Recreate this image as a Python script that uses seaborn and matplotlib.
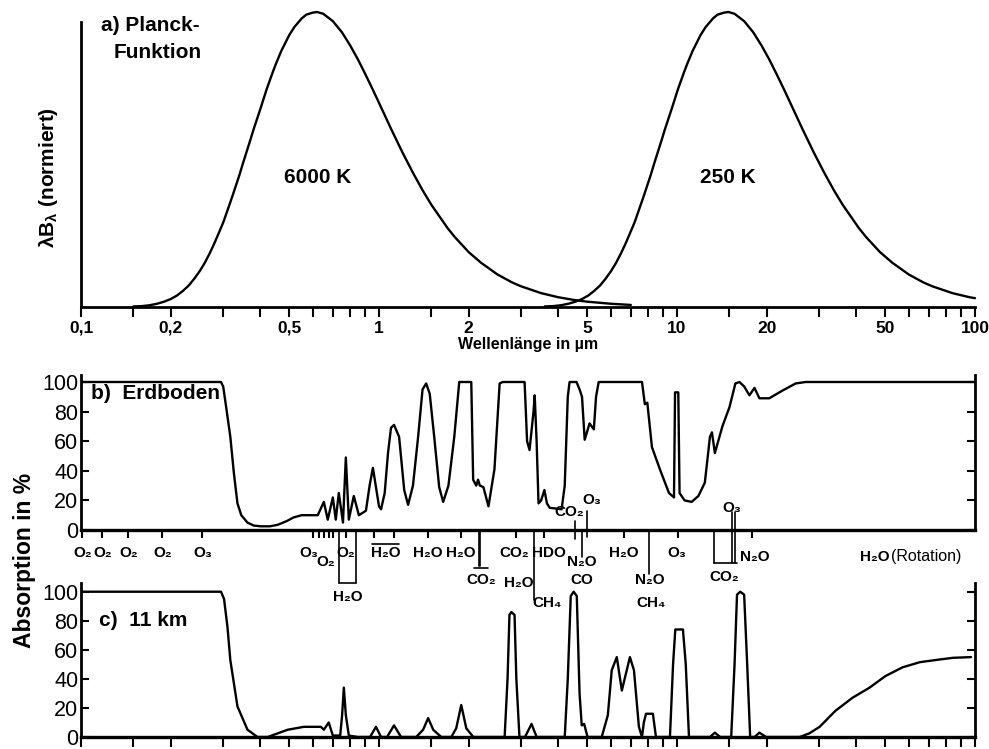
import matplotlib
matplotlib.use('Agg')
import matplotlib.pyplot as plt
from matplotlib.ticker import NullLocator
import seaborn as sns

# ---------------- data ----------------
# a) normalised Planck curves (lambda * B_lambda)
planck_6000_wl = [0.15, 0.16, 0.17, 0.18, 0.19, 0.2, 0.21, 0.22, 0.23, 0.24, 0.25, 0.26, 0.27,
                  0.28, 0.29, 0.3, 0.32, 0.34, 0.35, 0.37, 0.38, 0.4, 0.42, 0.44, 0.45, 0.47,
                  0.5, 0.52, 0.55, 0.57, 0.6, 0.62, 0.65, 0.7, 0.75, 0.8, 0.85, 0.9, 0.95, 1.0,
                  1.1, 1.2, 1.3, 1.4, 1.5, 1.7, 1.8, 2.0, 2.2, 2.5, 2.8, 3.0, 3.5, 4.0, 4.5,
                  5.0, 6.0, 7.0]
planck_6000_val = [0.002, 0.003, 0.006, 0.011, 0.018, 0.027, 0.039, 0.055, 0.073, 0.096, 0.121,
                   0.149, 0.181, 0.215, 0.251, 0.286, 0.367, 0.447, 0.489, 0.566, 0.604, 0.672,
                   0.739, 0.796, 0.822, 0.868, 0.922, 0.949, 0.978, 0.991, 0.998, 1.0, 0.994,
                   0.969, 0.932, 0.887, 0.839, 0.789, 0.740, 0.692, 0.602, 0.523, 0.455, 0.396,
                   0.346, 0.267, 0.236, 0.186, 0.150, 0.110, 0.083, 0.070, 0.047, 0.033, 0.024,
                   0.018, 0.011, 0.007]
planck_250_wl = [3.6, 3.84, 4.08, 4.32, 4.56, 4.8, 5.04, 5.28, 5.52, 5.76, 6.0, 6.24, 6.48,
                 6.72, 6.96, 7.2, 7.68, 8.16, 8.4, 8.88, 9.12, 9.6, 10.08, 10.56, 10.8, 11.28,
                 12.0, 12.48, 13.2, 13.68, 14.4, 14.88, 15.6, 16.8, 18.0, 19.2, 20.4, 21.6,
                 22.8, 24.0, 26.4, 28.8, 31.2, 33.6, 36.0, 40.8, 43.2, 48.0, 52.8, 60.0, 67.2,
                 72.0, 84.0, 96.0, 100.0]
planck_250_val = [0.002, 0.003, 0.006, 0.011, 0.018, 0.027, 0.039, 0.055, 0.073, 0.096, 0.121,
                  0.149, 0.181, 0.215, 0.251, 0.286, 0.367, 0.447, 0.489, 0.566, 0.604, 0.672,
                  0.739, 0.796, 0.822, 0.868, 0.922, 0.949, 0.978, 0.991, 0.998, 1.0, 0.994,
                  0.969, 0.932, 0.887, 0.839, 0.789, 0.740, 0.692, 0.602, 0.523, 0.455, 0.396,
                  0.346, 0.267, 0.236, 0.186, 0.150, 0.110, 0.083, 0.070, 0.047, 0.033, 0.030]

# b) absorption at the ground (%)
ground_wl = [0.10, 0.295, 0.300, 0.306, 0.317, 0.326, 0.335, 0.345, 0.362, 0.38, 0.401, 0.43,
             0.457, 0.49, 0.517, 0.55, 0.590, 0.623, 0.653, 0.673, 0.700, 0.716, 0.733, 0.757,
             0.774, 0.792, 0.823, 0.856, 0.904, 0.93, 0.954, 0.975, 1.0, 1.016, 1.045, 1.072,
             1.097, 1.123, 1.168, 1.215, 1.252, 1.30, 1.353, 1.40, 1.44, 1.48, 1.532, 1.592,
             1.642, 1.71, 1.789, 1.859, 2.04, 2.07, 2.12, 2.15, 2.18, 2.24, 2.33, 2.44, 2.54,
             2.60, 3.08, 3.14, 3.20, 3.30, 3.33, 3.38, 3.43, 3.50, 3.59, 3.66, 3.74, 4.10, 4.20,
             4.30, 4.36, 4.60, 4.71, 4.80, 4.90, 5.09, 5.26, 5.35, 5.46, 7.63, 7.80, 7.95, 8.24,
             8.8, 9.40, 9.77, 9.85, 10.1, 10.2, 10.6, 11.2, 11.8, 12.4, 12.9, 13.1, 13.4, 14.2,
             15.0, 15.7, 16.2, 16.8, 17.5, 18.2, 18.9, 20.4, 22.5, 25.0, 27.0, 100.0]
ground_abs = [100, 100, 97, 85, 63, 38, 18, 10, 5, 3, 2.5, 2.5,
              3.5, 6, 8.5, 10, 10, 10, 19, 7, 22, 7, 25, 5,
              49, 7, 23, 10, 13, 30, 42, 30, 16, 14, 25, 52,
              69, 71, 63, 27, 17, 30, 63, 95, 99, 92, 63, 29,
              19, 30, 63, 100, 100, 34, 30, 34, 30, 29, 16, 41, 99,
              100, 100, 60, 54, 80, 91, 60, 18, 20, 27, 18, 15, 14, 30,
              90, 100, 100, 95, 90, 61, 72, 68, 90, 100, 100, 85, 86, 56,
              40, 25, 22, 93, 93, 25, 20, 19, 23, 32, 63, 66, 52, 70,
              83, 99, 100, 97, 91, 96, 89, 89, 94, 99, 100, 100]

# c) absorption at 11 km (%)
km11_wl = [0.10, 0.295, 0.302, 0.310, 0.317, 0.335, 0.362, 0.391, 0.423, 0.494, 0.559, 0.638,
           0.653, 0.678, 0.700, 0.741, 0.752, 0.762, 0.774, 0.792, 0.849, 0.933, 0.977, 1.016,
           1.064, 1.123, 1.186, 1.333, 1.406, 1.462, 1.520, 1.618, 1.748, 1.816, 1.888, 1.963,
           2.072, 2.64, 2.70, 2.74, 2.78, 2.85, 2.89, 2.96, 3.09, 3.25, 3.38, 4.20, 4.30, 4.40,
           4.50, 4.61, 4.71, 4.79, 4.88, 5.01, 5.59, 5.86, 6.04, 6.28, 6.53, 6.95, 7.17, 7.45,
           7.63, 7.74, 7.87, 8.30, 8.50, 9.47, 9.70, 9.87, 10.47, 10.7, 10.97, 12.9, 13.4,
           13.96, 15.2, 15.6, 15.9, 16.3, 16.8, 17.2, 17.6, 18.2, 18.9, 19.9, 25.8, 27.8, 30.1,
           34.0, 38.8, 44.3, 50.1, 57.2, 65.3, 73.9, 84.3, 97.0]
km11_abs = [100, 100, 95, 76, 53, 21, 5, 0, 0, 5, 7, 7,
            5, 10, 1, 1, 15, 34, 15, 1, 0, 0, 7, 0,
            0, 8, 0, 0, 5, 13, 5, 0, 0, 6, 22, 6,
            0, 0, 40, 84, 86, 84, 40, 0, 0, 9, 0, 0, 40, 97,
            100, 97, 30, 8, 9, 0, 0, 15, 46, 55, 32, 55, 46, 7,
            0, 10, 16, 16, 0, 0, 50, 74, 74, 50, 0, 0, 3,
            0, 0, 50, 98, 100, 98, 50, 0, 0, 3, 0, 0, 2.5, 7,
            18, 27, 34, 42, 48, 51.5, 53, 54.5, 55]

# axis ticks / labels
log_ticks = [0.1, 0.15, 0.2, 0.3, 0.4, 0.5, 0.6, 0.7, 0.8, 0.9, 1, 1.5, 2, 3, 4, 5, 6, 7, 8, 9,
             10, 15, 20, 30, 40, 50, 60, 70, 80, 90, 100]
tick_text = {0.1: '0,1', 0.2: '0,2', 0.5: '0,5', 1: '1', 2: '2', 5: '5', 10: '10', 20: '20',
             50: '50', 100: '100'}
abs_ticks = [0, 20, 40, 60, 80, 100]

# molecule band labels of panel b: (text, wavelength, y in %)
band_labels = [('O₂', 0.101, -15.5), ('O₂', 0.1186, -15.5), ('O₂', 0.144, -15.5),
               ('O₂', 0.1874, -15.5), ('O₃', 0.2556, -15.5), ('O₃', 0.581, -15.5),
               ('O₂', 0.663, -21.6), ('O₂', 0.774, -15.5), ('H₂O', 1.056, -15.5),
               ('H₂O', 1.462, -15.5), ('H₂O', 1.888, -15.5), ('CO₂', 2.85, -15.5),
               ('HDO', 3.71, -15.5), ('H₂O', 6.63, -15.5), ('O₃', 10.0, -15.5),
               ('N₂O', 18.3, -18), ('N₂O', 4.79, -21.6), ('CO', 4.79, -33.8),
               ('CO₂', 2.20, -33.8), ('H₂O', 2.94, -35.8), ('N₂O', 8.11, -33.8),
               ('CH₄', 8.2, -49), ('CH₄', 3.65, -49), ('CO₂', 14.4, -31.8),
               ('H₂O', 0.786, -45), ('CO₂', 4.36, 12.2), ('O₃', 5.17, 20.3), ('O₃', 15.3, 14.9)]
band_ticks = [0.1008, 0.118, 0.144, 0.187, 0.2556, 0.5986, 0.628, 0.653, 0.678, 0.700, 0.774,
              0.96, 1.12, 1.462, 1.888, 2.89, 3.59, 6.63, 10.1, 17.9]
guide_vertical = [(0.733, 0, -36), (0.836, 0, -36), (2.16, 0, -24), (2.19, 0, -24),
                  (3.30, 0, -47), (4.54, 6, -6), (4.79, 0, -18), (4.98, 13, -5),
                  (8.05, 0, -30), (13.3, 0, -22), (15.3, 12, -22), (15.7, 12, -22)]
guide_horizontal = [(0.733, 0.836, -36), (2.08, 2.32, -25.5), (13.3, 15.9, -22),
                    (0.95, 1.17, -9.5)]

# ---------------- style ----------------
sns.set_theme(style='white')
plt.rcParams['font.family'] = ['Liberation Sans', 'DejaVu Sans']
plt.rcParams['mathtext.fontset'] = 'custom'
plt.rcParams['mathtext.rm'] = 'Liberation Sans'
plt.rcParams['mathtext.bf'] = 'Liberation Sans:bold'
plt.rcParams['mathtext.it'] = 'Liberation Sans:italic'
for key in ['text.color', 'axes.labelcolor', 'xtick.color', 'ytick.color', 'axes.edgecolor']:
    plt.rcParams[key] = 'black'

W, H = 989, 749
fig = plt.figure(figsize=(W / 100, H / 100), dpi=100)
fig.patch.set_facecolor('white')

def px_axes(x0, x1, ytop, ybot):
    ax = fig.add_axes([x0 / W, 1 - ybot / H, (x1 - x0) / W, (ybot - ytop) / H])
    ax.set_facecolor('none')
    return ax

LW = 1.7
SPW = 2.0

# ---------------- panel a ----------------
ax_a = px_axes(81, 975, 12, 307)
ax_a.set_xscale('log')
sns.lineplot(x=planck_6000_wl, y=planck_6000_val, ax=ax_a, color='black', lw=LW,
             estimator=None, sort=False)
sns.lineplot(x=planck_250_wl, y=planck_250_val, ax=ax_a, color='black', lw=LW,
             estimator=None, sort=False)
for ln in ax_a.lines:
    ln.set_clip_on(False)
ax_a.set_xlim(0.1, 100)
ax_a.set_ylim(0, 1.0)
for s in ['top', 'right']:
    ax_a.spines[s].set_visible(False)
for s in ['left', 'bottom']:
    ax_a.spines[s].set_color('black')
    ax_a.spines[s].set_linewidth(SPW)
ax_a.spines['left'].set_bounds(0, 0.966)
ax_a.set_xticks(log_ticks)
ax_a.set_xticklabels([tick_text.get(t, '') for t in log_ticks], fontweight='bold')
ax_a.xaxis.set_minor_locator(NullLocator())
ax_a.set_yticks([])
ax_a.tick_params(axis='x', direction='out', length=7, width=1.5, labelsize=12.5, pad=3,
                 bottom=True, colors='black')
ax_a.set_xlabel('Wellenlänge in µm', fontsize=11.5, fontweight='bold', labelpad=1)
ax_a.set_ylabel('')
ax_a.text(0.1165, 0.985, 'a) Planck-', fontsize=15, fontweight='bold', va='top', ha='left')
ax_a.text(0.1285, 0.895, 'Funktion', fontsize=15, fontweight='bold', va='top', ha='left')
ax_a.text(0.62, 0.44, '6000 K', fontsize=15, fontweight='bold', ha='center', va='center')
ax_a.text(14.8, 0.44, '250 K', fontsize=15, fontweight='bold', ha='center', va='center')
fig.text(49 / W, 1 - 178 / H, r'λB$_\mathbf{λ}$ (normiert)', rotation=90, fontsize=15,
         fontweight='bold', ha='center', va='center')

# ---------------- panel b ----------------
ax_b = px_axes(81, 975, 374.6, 530)
ax_b.set_xscale('log')
sns.lineplot(x=ground_wl, y=ground_abs, ax=ax_b, color='black', lw=LW, estimator=None,
             sort=False)
ax_b.set_xlim(0.1, 100)
ax_b.set_ylim(0, 105)
ax_b.spines['top'].set_visible(False)
for s in ['left', 'right', 'bottom']:
    ax_b.spines[s].set_color('black')
    ax_b.spines[s].set_linewidth(SPW)
ax_b.spines['bottom'].set_linewidth(2.4)
ax_b.set_yticks(abs_ticks)
ax_b.set_yticklabels([str(t) for t in abs_ticks])
ax_b.tick_params(axis='y', direction='in', left=True, right=True, length=6, width=1.5,
                 labelsize=15.5, pad=2, colors='black')
ax_b.set_xticks(band_ticks)
ax_b.set_xticklabels([])
ax_b.xaxis.set_minor_locator(NullLocator())
ax_b.tick_params(axis='x', direction='out', bottom=True, length=6, width=1.5, colors='black')
ax_b.set_xlabel('')
ax_b.set_ylabel('')
ax_b.text(0.108, 92, 'b)  Erdboden', fontsize=15, fontweight='bold', ha='left', va='center')
for txt, wl, yy in band_labels:
    ax_b.text(wl, yy, txt, fontsize=11, fontweight='bold', ha='center', va='center',
              clip_on=False)
ax_b.text(46.1, -18, 'H₂O', fontsize=11, fontweight='bold', ha='center', va='center',
          clip_on=False)
ax_b.text(52.2, -18, '(Rotation)', fontsize=11.5, ha='left', va='center', clip_on=False)
for wl, y0, y1 in guide_vertical:
    ax_b.plot([wl, wl], [y0, y1], color='black', lw=1.2, clip_on=False)
for w0, w1, yy in guide_horizontal:
    ax_b.plot([w0, w1], [yy, yy], color='black', lw=1.2, clip_on=False)

# ---------------- panel c ----------------
ax_c = px_axes(81, 975, 583, 737)
ax_c.set_xscale('log')
sns.lineplot(x=km11_wl, y=km11_abs, ax=ax_c, color='black', lw=LW, estimator=None,
             sort=False)
ax_c.set_xlim(0.1, 100)
ax_c.set_ylim(0, 106)
ax_c.spines['top'].set_visible(False)
for s in ['left', 'right', 'bottom']:
    ax_c.spines[s].set_color('black')
    ax_c.spines[s].set_linewidth(SPW)
ax_c.spines['bottom'].set_linewidth(2.4)
ax_c.set_yticks(abs_ticks)
ax_c.set_yticklabels([str(t) for t in abs_ticks])
ax_c.tick_params(axis='y', direction='in', left=True, right=True, length=6, width=1.5,
                 labelsize=15.5, pad=2, colors='black')
ax_c.set_xticks(log_ticks)
ax_c.set_xticklabels([])
ax_c.xaxis.set_minor_locator(NullLocator())
ax_c.tick_params(axis='x', direction='out', bottom=True, length=7, width=1.5, colors='black')
ax_c.set_xlabel('')
ax_c.set_ylabel('')
ax_c.text(0.115, 80, 'c)  11 km', fontsize=15, fontweight='bold', ha='left', va='center')

fig.text(25 / W, 1 - 560 / H, 'Absorption in %', rotation=90, fontsize=16.5,
         fontweight='bold', ha='center', va='center')

fig.savefig('out.png', dpi=100, facecolor='white')
